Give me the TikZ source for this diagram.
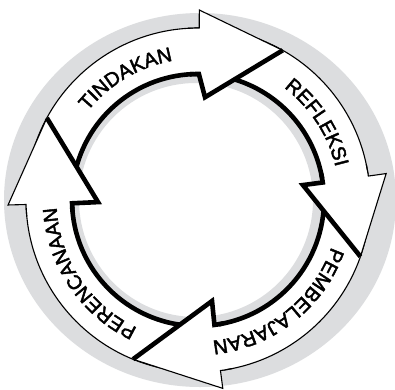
\documentclass[tikz,border=0pt]{standalone}
\usepackage{fontspec}
\newfontfamily\labelfont{Liberation Sans}[RawFeature={embolden=2.2}]
\usetikzlibrary{decorations.text}

\definecolor{ringgray}{RGB}{220,221,223}

% radii of the cycle (pt, centre of the ring at the origin)
\newcommand\rOut{172}
\newcommand\rIn{126}
\newcommand\rBack{190}
\newcommand\rText{141.5}
\newcommand\wordfont{\labelfont\fontsize{20}{20}\selectfont}

% body of one arrow, running clockwise from angle #1 (tail) to angle #2 (back of head)
\newcommand\cycbody[2]{%
  \fill[white] (#1:\rOut) arc[start angle=#1, end angle=#2, radius=\rOut]
    -- (#2:\rIn) arc[start angle=#2, end angle=#1, radius=\rIn] -- cycle;
  \draw[outline] (#1:\rOut) arc[start angle=#1, end angle=#2, radius=\rOut];
  \draw[shadowline] (#1:\rIn) arc[start angle=#1, end angle=#2, radius=\rIn];
}
% head of one arrow: #1 back angle, #2 tip angle, #3/#4 angle/radius of the inner corner
\newcommand\cychead[4]{%
  \fill[white] (#1:\rBack) -- (#2:\rOut) -- (#3:#4) -- (#1:\rIn) -- (#1+2:\rIn)
    -- (#1+2:\rOut) -- (#1:\rOut) -- cycle;
  \draw[outline] (#1+4:\rOut) arc[start angle=#1+4, end angle=#1, radius=\rOut]
    -- (#1:\rBack) -- (#2:\rOut);
  \draw[shadowline] (#2:\rOut) -- (#3:#4) -- (#1:\rIn)
    arc[start angle=#1, end angle=#1+4, radius=\rIn];
}
% word set clockwise along the middle of an arrow, centred on angle #1
\newcommand\cyclabel[2]{%
  \path[decorate, decoration={text along path, text align=center,
      text={|\wordfont|#2}}]
    (#1+50:\rText) arc[start angle=#1+50, end angle=#1-50, radius=\rText];
}

\begin{document}
\begin{tikzpicture}[x=1pt, y=1pt,
  outline/.style={line width=1.1pt, line join=miter},
  shadowline/.style={line width=4.6pt, line join=miter}]

\useasboundingbox (-198,-189) rectangle (197,200);
\fill[white] (-198,-189) rectangle (197,200);

\begin{scope}
\clip (-198,-189) rectangle (197,200);
% grey ring behind the cycle
\fill[ringgray, even odd rule] (2,0) ellipse[x radius=196, y radius=187]
  (-2,0) circle[radius=117];

% arrow bodies
\cycbody{171.5}{89.6}
\cycbody{80.5}{8}
\cycbody{0.8}{-82.5}
\cycbody{-92.2}{-178.5}

% arrow heads
\cychead{89.6}{60.5}{86.1}{103}
\cychead{8}{-19.2}{8.1}{106}
\cychead{-82.5}{-112.2}{-82.1}{102}
\cychead{181.5}{151.5}{181.2}{100}

% labels
\cyclabel{120.7}{TINDAKAN}
\cyclabel{33}{REFLEKSI}
\cyclabel{-51.8}{PEMBELAJARAN}
\cyclabel{-146.2}{PERENCANAAN}
\end{scope}
\end{tikzpicture}
\end{document}
